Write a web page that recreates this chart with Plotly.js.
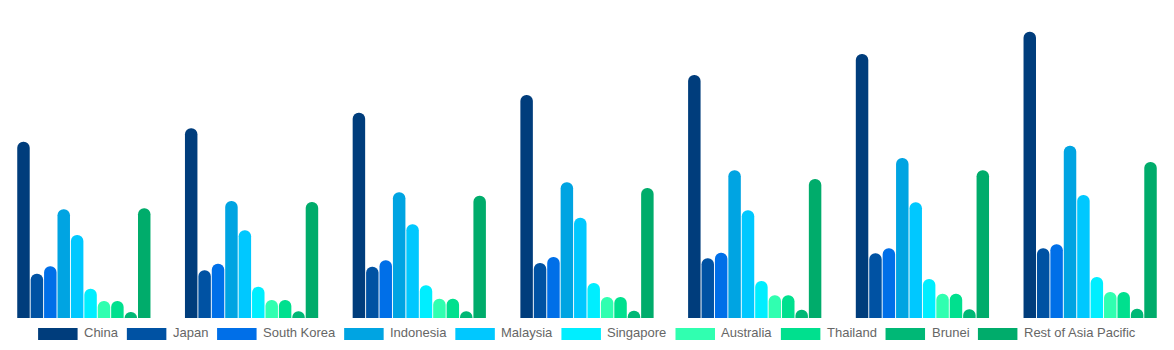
<!DOCTYPE html>
<html>
<head>
<meta charset="utf-8">
<script src="https://cdn.plot.ly/plotly-3.0.1.min.js"></script>
<style>html,body{margin:0;padding:0;background:#fff;}#chart{width:1174px;height:350px;}</style>
</head>
<body>
<div id="chart"></div>
<script>
// Group categories (axis is hidden in the reference)
var categories = ['2024', '2025', '2026', '2027', '2028', '2029', '2030'];

// Series values (arbitrary units)
var china      = [176.3, 189.7, 205.3, 223.0, 243.0, 264.0, 286.3];
var japan      = [44.3, 47.7, 51.3, 55.0, 59.7, 64.7, 69.7];
var southKorea = [51.7, 54.3, 57.7, 61.0, 65.3, 69.7, 73.7];
var indonesia  = [108.7, 117.0, 125.7, 135.7, 147.7, 160.0, 172.3];
var malaysia   = [83.0, 87.7, 93.7, 100.3, 107.7, 115.7, 123.0];
var singapore  = [29.3, 31.3, 32.7, 35.0, 37.0, 39.0, 41.0];
var australia  = [17.0, 18.0, 19.3, 21.0, 22.7, 24.3, 26.0];
var thailand   = [17.0, 18.0, 19.3, 21.0, 22.7, 24.3, 26.0];
var brunei     = [6.0, 6.7, 6.7, 7.3, 8.3, 8.7, 9.3];
var restAP     = [109.7, 116.0, 122.3, 130.0, 139.0, 147.7, 156.0];

var seriesNames = ['China', 'Japan', 'South Korea', 'Indonesia', 'Malaysia',
                   'Singapore', 'Australia', 'Thailand', 'Brunei', 'Rest of Asia Pacific'];
var seriesValues = [china, japan, southKorea, indonesia, malaysia,
                    singapore, australia, thailand, brunei, restAP];
var colors = ['#003d7c', '#0052a3', '#006fe8', '#00a4e2', '#00c8ff',
              '#00eeff', '#30ffb0', '#00e08e', '#00b876', '#00ac6b'];

var W = 1174, H = 350, MT = 18, MB = 32;
var plotH = H - MT - MB;
var FONT = 'Liberation Sans, Arial, sans-serif';

var traces = seriesNames.map(function (name, i) {
  return {
    type: 'bar', name: name, x: categories, y: seriesValues[i],
    marker: {color: colors[i], cornerradius: 6},
    showlegend: false, hoverinfo: 'name+y'
  };
});

// Legend built as layout shapes + annotations (wide swatches like the reference)
var ctx = document.createElement('canvas').getContext('2d');
ctx.font = '13px "Liberation Sans", Arial, sans-serif';
var swW = 39.5, swGap = 6.5, itemGap = 8.8, swTop = 328, swBot = 340, textMid = 332.5;
var widths = seriesNames.map(function (n) { return ctx.measureText(n).width; });
var total = widths.reduce(function (a, b) { return a + b; }, 0) +
            seriesNames.length * (swW + swGap) + (seriesNames.length - 1) * itemGap;
var cursor = W / 2 - total / 2;
var shapes = [], annotations = [];
function py(p) { return (H - MB - p) / plotH; }
seriesNames.forEach(function (name, i) {
  shapes.push({
    type: 'rect', xref: 'paper', yref: 'paper',
    x0: cursor / W, x1: (cursor + swW) / W, y0: py(swBot), y1: py(swTop),
    fillcolor: colors[i], line: {width: 0}
  });
  cursor += swW + swGap;
  annotations.push({
    xref: 'paper', yref: 'paper', x: cursor / W, y: py(textMid),
    xanchor: 'left', yanchor: 'middle', showarrow: false, text: name,
    borderpad: 0, borderwidth: 0,
    font: {family: FONT, size: 13, color: '#666666'}
  });
  cursor += widths[i] + itemGap;
});

var layout = {
  width: W, height: H,
  margin: {l: 0, r: 0, t: MT, b: MB},
  paper_bgcolor: '#ffffff', plot_bgcolor: '#ffffff',
  barmode: 'group', bargap: 0.2, bargroupgap: 0.07,
  xaxis: {visible: false, type: 'category'},
  yaxis: {visible: false, range: [0, 300]},
  showlegend: false,
  shapes: shapes,
  annotations: annotations,
  font: {family: FONT}
};

Plotly.newPlot('chart', traces, layout, {displayModeBar: false, staticPlot: true});
</script>
</body>
</html>
